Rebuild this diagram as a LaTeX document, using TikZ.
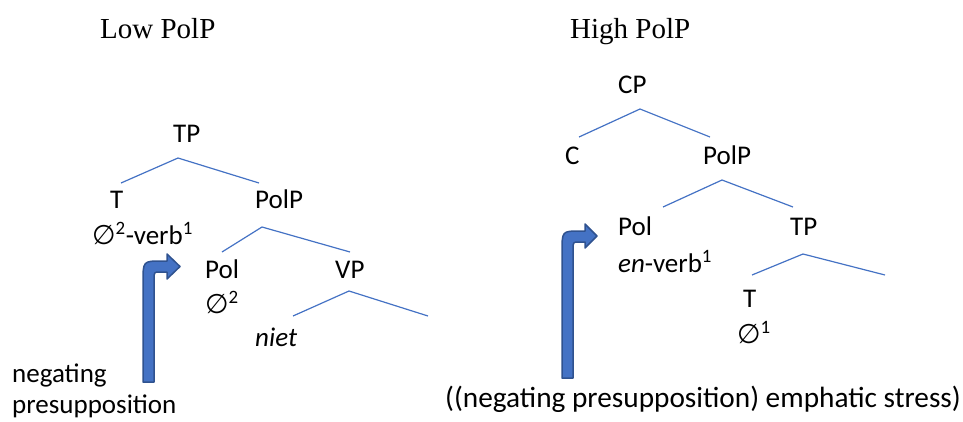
\documentclass[tikz,border=0pt]{standalone}
\usepackage{fontspec}
\setmainfont{Liberation Serif}
\newfontfamily\treefont{Carlito}
\newfontfamily\symfont{DejaVu Sans}
\newcommand{\nullsym}{{\symfont ∅}}

\definecolor{branchblue}{HTML}{4472C4}
\definecolor{arrowfill}{HTML}{4472C4}
\definecolor{arrowedge}{HTML}{2F528F}

\tikzset{
  lbl/.style={inner sep=0pt, anchor=base west, font=\treefont\fontsize{27}{31}\selectfont},
  title/.style={inner sep=0pt, anchor=base west, font=\fontsize{29}{32}\selectfont},
  branch/.style={draw=branchblue, line width=1.2pt},
  bent/.style={fill=arrowfill, draw=arrowedge, line width=1.5pt, line join=round},
}

\begin{document}
\begin{tikzpicture}[x=1pt, y=-1pt]
  \useasboundingbox (0,0) rectangle (963,421);
  % Headings
  \node[title] (lowtitle) at (100,38) {Low PolP};
  \node[title] (hightitle) at (570,38) {High PolP};

  % Low PolP tree
  \node[lbl] (tp) at (173,142) {TP};
  \coordinate (tp-top) at (178,158);
  \coordinate (tp-l) at (121,183);
  \coordinate (tp-r) at (259,183);
  \draw[branch] (tp-l) -- (tp-top) -- (tp-r);
  \node[lbl] (t) at (110,208) {T};
  \node[lbl] (tverb) at (92,244) {\nullsym\textsuperscript{2}-verb\textsuperscript{1}};
  \node[lbl] (polp) at (255,208) {PolP};
  \coordinate (polp-top) at (262,227);
  \coordinate (polp-l) at (222,252);
  \coordinate (polp-r) at (350,252);
  \draw[branch] (polp-l) -- (polp-top) -- (polp-r);
  \node[lbl] (pol) at (205,278) {Pol};
  \node[lbl] (polnull) at (205,313) {\nullsym\textsuperscript{2}};
  \node[lbl] (vp) at (335,278) {VP};
  \coordinate (vp-top) at (349,291);
  \coordinate (vp-l) at (293,316);
  \coordinate (vp-r) at (428,316);
  \draw[branch] (vp-l) -- (vp-top) -- (vp-r);
  \node[lbl] (niet) at (255,346) {\textit{niet}};
  \node[lbl] (neg) at (12,382) {negating};
  \node[lbl] (presup) at (12,413) {presupposition};
  % Bent arrow, left
  \filldraw[bent] (143,382) -- (143,282) .. controls (143,261) .. (162,261)
    -- (167,261) -- (167,254) -- (180,266.5) -- (167,279) -- (167,272)
    -- (160,272) .. controls (154,272) .. (154,280) -- (154,382) -- cycle;

  % High PolP tree
  \node[lbl] (cp) at (618,93) {CP};
  \coordinate (cp-top) at (640,109);
  \coordinate (cp-l) at (579,137);
  \coordinate (cp-r) at (710,137);
  \draw[branch] (cp-l) -- (cp-top) -- (cp-r);
  \node[lbl] (c) at (565,164) {C};
  \node[lbl] (polp2) at (703,164) {PolP};
  \coordinate (polp2-top) at (722,180);
  \coordinate (polp2-l) at (663,207);
  \coordinate (polp2-r) at (793,207);
  \draw[branch] (polp2-l) -- (polp2-top) -- (polp2-r);
  \node[lbl] (pol2) at (618,235) {Pol};
  \node[lbl] (enverb) at (618,272) {\textit{en}-verb\textsuperscript{1}};
  \node[lbl] (tp2) at (790,235) {TP};
  \coordinate (tp2-top) at (803,254);
  \coordinate (tp2-l) at (752,275);
  \coordinate (tp2-r) at (885,275);
  \draw[branch] (tp2-l) -- (tp2-top) -- (tp2-r);
  \node[lbl] (t2) at (743,307) {T};
  \node[lbl] (tnull) at (737,343) {\nullsym\textsuperscript{1}};
  \node[lbl, font=\treefont\fontsize{29.3}{33}\selectfont] (stress) at (445,407) {((negating presupposition) emphatic stress)};
  % Bent arrow, right
  \filldraw[bent] (562,378) -- (562,252) .. controls (562,231) .. (580,231)
    -- (585,231) -- (585,224) -- (597,236) -- (585,248) -- (585,242)
    -- (579,242) .. controls (573,242) .. (573,250) -- (573,378) -- cycle;
\end{tikzpicture}
\end{document}
